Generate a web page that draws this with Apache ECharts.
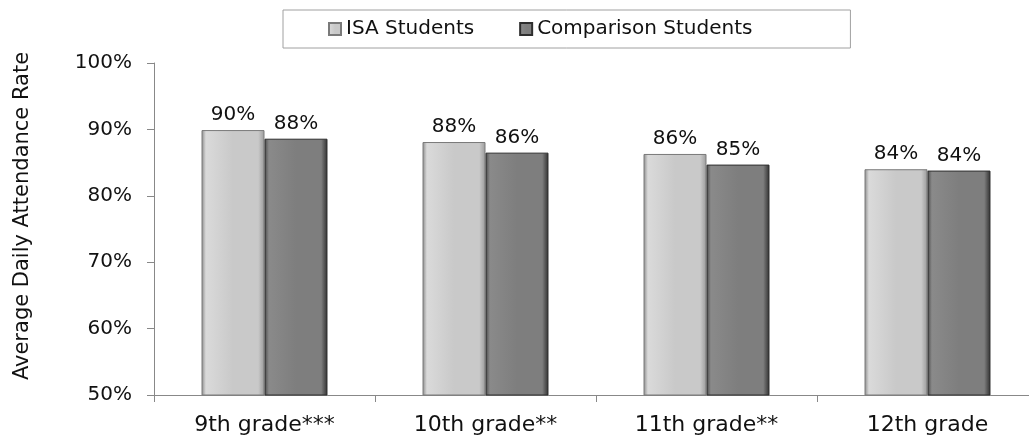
<!DOCTYPE html>
<html><head><meta charset="utf-8">
<script src="https://cdn.jsdelivr.net/npm/echarts@6/dist/echarts.min.js"></script>
<style>html,body{margin:0;padding:0;background:#fff;overflow:hidden;width:1029px;height:438px}#c{width:1040px;height:438px}</style>
</head><body><div id="c"></div>
<script>
const categories = ['9th grade***', '10th grade**', '11th grade**', '12th grade'];
const isaValues = [89.9, 88.1, 86.3, 84.0];
const comparisonValues = [88.6, 86.5, 84.7, 83.8];
const isaLabels = ['90%', '88%', '86%', '84%'];
const comparisonLabels = ['88%', '86%', '85%', '84%'];
const seriesNames = ['ISA Students', 'Comparison Students'];

const FONT = 'DejaVu Sans';
function grad(edge, mid, light, dark) {
  return new echarts.graphic.LinearGradient(0, 0, 1, 0, [
    {offset: 0, color: edge},
    {offset: 0.07, color: light},
    {offset: 0.5, color: mid},
    {offset: 0.9, color: mid},
    {offset: 1, color: dark}
  ]);
}
const chart = echarts.init(document.getElementById('c'), null, {renderer: 'canvas'});
chart.setOption({
  animation: false,
  textStyle: {fontFamily: FONT},
  grid: {left: 154, right: 2, top: 63, bottom: 43},
  legend: {
    data: seriesNames,
    left: 283, top: 10,
    padding: [9, 98, 9, 45],
    borderColor: '#a0a0a0', borderWidth: 1,
    itemWidth: 12, itemHeight: 12, itemGap: 45,
    icon: 'rect',
    textStyle: {fontFamily: FONT, fontSize: 20, color: '#111'}
  },
  xAxis: {
    type: 'category', data: categories,
    axisLine: {lineStyle: {color: '#888'}},
    axisTick: {show: true, length: 7, lineStyle: {color: '#888'}},
    axisLabel: {fontFamily: FONT, fontSize: 22, color: '#111', margin: 19}
  },
  yAxis: {
    type: 'value', min: 50, max: 100, interval: 10,
    name: 'Average Daily Attendance Rate',
    nameLocation: 'middle', nameGap: 121,
    nameTextStyle: {fontFamily: FONT, fontSize: 21, color: '#111', padding: [0, 0, 0, 26]},
    axisLine: {show: true, lineStyle: {color: '#888'}},
    axisTick: {show: true, length: 7, lineStyle: {color: '#888'}},
    splitLine: {show: false},
    axisLabel: {fontFamily: FONT, fontSize: 20, color: '#111', margin: 22, formatter: v => v + '%'}
  },
  series: [
    {
      name: seriesNames[0], type: 'bar', data: isaValues,
      barGap: '0%', barCategoryGap: '43%',
      itemStyle: {color: grad('#8a8a8a', '#c9c9c9', '#dadada', '#9a9a9a'), borderColor: '#7a7a7a', borderWidth: 1},
      label: {show: true, position: 'top', distance: 5, fontFamily: FONT, fontSize: 20, color: '#111',
        formatter: p => isaLabels[p.dataIndex]}
    },
    {
      name: seriesNames[1], type: 'bar', data: comparisonValues,
      itemStyle: {color: grad('#4a4a4a', '#7e7e7e', '#8a8a8a', '#303030'), borderColor: '#2e2e2e', borderWidth: 1},
      label: {show: true, position: 'top', distance: 5, fontFamily: FONT, fontSize: 20, color: '#111',
        formatter: p => comparisonLabels[p.dataIndex]}
    }
  ]
});
</script></body></html>
